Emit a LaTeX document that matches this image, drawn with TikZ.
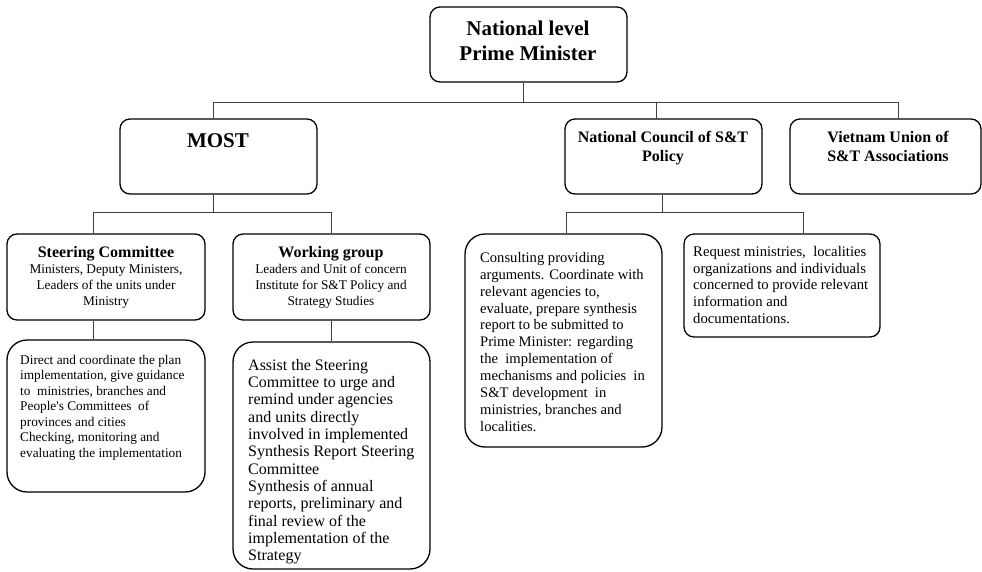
\documentclass[tikz,border=0pt]{standalone}
\usepackage{fontspec}
\setmainfont{Liberation Serif}

\tikzstyle{unit} = [draw=black,line width=1.3pt,rounded corners=10pt,inner sep=0pt]
\tikzstyle{task} = [draw=black,line width=1.3pt,rounded corners=20pt,inner sep=0pt]
\tikzstyle{head} = [inner sep=0pt,anchor=north,align=center,font=\bfseries]
\tikzstyle{duty} = [inner sep=0pt,anchor=north west,align=left]
\tikzstyle{link} = [draw=black!75,line width=0.8pt]

\begin{document}
\begin{tikzpicture}[x=1pt,y=-1pt]

	\useasboundingbox (0,0) rectangle (982,571);

	\node (pm) [unit,minimum width=197pt,minimum height=75pt] at (528.5,44.5) {};
	\node (most) [unit,minimum width=197pt,minimum height=75pt] at (218.5,156.5) {};
	\node (ncp) [unit,minimum width=197pt,minimum height=75pt] at (663.5,156.5) {};
	\node (vusta) [unit,minimum width=191pt,minimum height=75pt] at (885.5,156.5) {};
	\node (steer) [unit,minimum width=198pt,minimum height=86pt] at (106,277) {};
	\node (wgroup) [unit,minimum width=197pt,minimum height=86pt] at (331.5,277) {};
	\node (steerdo) [task,minimum width=198pt,minimum height=152pt] at (106,416) {};
	\node (wgroupdo) [task,minimum width=197pt,minimum height=227pt] at (331.5,455.5) {};
	\node (ncpdo) [task,minimum width=197pt,minimum height=213pt] at (563.5,340.5) {};
	\node (ncpreq) [unit,minimum width=196pt,minimum height=103pt] at (782,285.5) {};

	\node (pm-t) [head,font=\bfseries\fontsize{21}{25}\selectfont] at (528,20.5) {National level\\Prime Minister};
	\node (most-t) [head,font=\bfseries\fontsize{21}{25}\selectfont] at (218,133.5) {MOST};
	\node (ncp-t) [head,font=\bfseries\fontsize{16}{19}\selectfont] at (663,131) {National Council of S\&T\\Policy};
	\node (vusta-t) [head,font=\bfseries\fontsize{16}{19}\selectfont] at (888,131) {Vietnam Union of\\S\&T Associations};
	\node (steer-t) [head,font=\fontsize{13.3}{16}\selectfont] at (106,246.5) {{\bfseries\fontsize{16}{16}\selectfont Steering Committee}\\Ministers, Deputy Ministers,\\Leaders of the units under\\Ministry};
	\node (wgroup-t) [head,font=\fontsize{13.3}{16}\selectfont] at (331,246.5) {{\bfseries\fontsize{16}{16}\selectfont Working group}\\Leaders and Unit of concern\\Institute for S\&T Policy and\\Strategy Studies};
	\node (steerdo-t) [duty,font=\fontsize{13.3}{15.5}\selectfont] at (20,355) {Direct and coordinate the plan\\implementation, give guidance\\to\ \ ministries, branches and\\People\textquotesingle s Committees\ \ of\\provinces and cities\\Checking, monitoring and\\evaluating the implementation};
	\node (wgroupdo-t) [duty,font=\fontsize{16}{17.3}\selectfont] at (248,359) {Assist the Steering\\Committee to urge and\\remind under agencies\\and units directly\\involved in implemented\\Synthesis Report Steering\\Committee\\Synthesis of annual\\reports, preliminary and\\final review of the\\implementation of the\\Strategy};
	\node (ncpdo-t) [duty,font=\fontsize{14.6}{16.9}\selectfont] at (480,252) {Consulting providing\\arguments. Coordinate with\\relevant agencies to,\\evaluate, prepare synthesis\\report to be submitted to\\Prime Minister: regarding\\the\ \ implementation of\\mechanisms and policies\ \ in\\S\&T development\ \ in\\ministries, branches and\\localities.};
	\node (ncpreq-t) [duty,font=\fontsize{14.7}{16.7}\selectfont] at (693,246) {Request ministries,\ \ localities\\organizations and individuals\\concerned to provide relevant\\information and\\documentations.};

	\coordinate (bus-a) at (0,102);
	\coordinate (bus-b) at (0,212);
	\coordinate (pm-out) at ([xshift=-5.5pt]pm.south);
	\coordinate (most-in) at ([xshift=-5.5pt]most.north);
	\coordinate (most-out) at ([xshift=-5.5pt]most.south);
	\coordinate (ncp-in) at ([xshift=-7.5pt]ncp.north);
	\coordinate (ncp-out) at ([xshift=-1.5pt]ncp.south);
	\coordinate (vusta-in) at ([xshift=12.5pt]vusta.north);
	\coordinate (steer-in) at ([xshift=-13pt]steer.north);
	\coordinate (steer-out) at ([xshift=-13pt]steer.south);
	\coordinate (steerdo-in) at ([xshift=-13pt]steerdo.north);
	\coordinate (ncpdo-in) at ([xshift=2.5pt]ncpdo.north);
	\coordinate (ncpreq-in) at ([xshift=21pt]ncpreq.north);

	\draw[link] (pm-out) -- (pm-out |- bus-a);
	\draw[link] (most-in) |- (vusta-in |- bus-a) -- (vusta-in);
	\draw[link] (ncp-in) -- (ncp-in |- bus-a);

	\draw[link] (most-out) -- (most-out |- bus-b);
	\draw[link] (steer-in) |- (wgroup.north |- bus-b) -- (wgroup.north);
	\draw[link] (steer-out) -- (steerdo-in);
	\draw[link] (wgroup.south) -- (wgroupdo.north);

	\draw[link] (ncp-out) -- (ncp-out |- bus-b);
	\draw[link] (ncpdo-in) |- (ncpreq-in |- bus-b) -- (ncpreq-in);

\end{tikzpicture}
\end{document}
